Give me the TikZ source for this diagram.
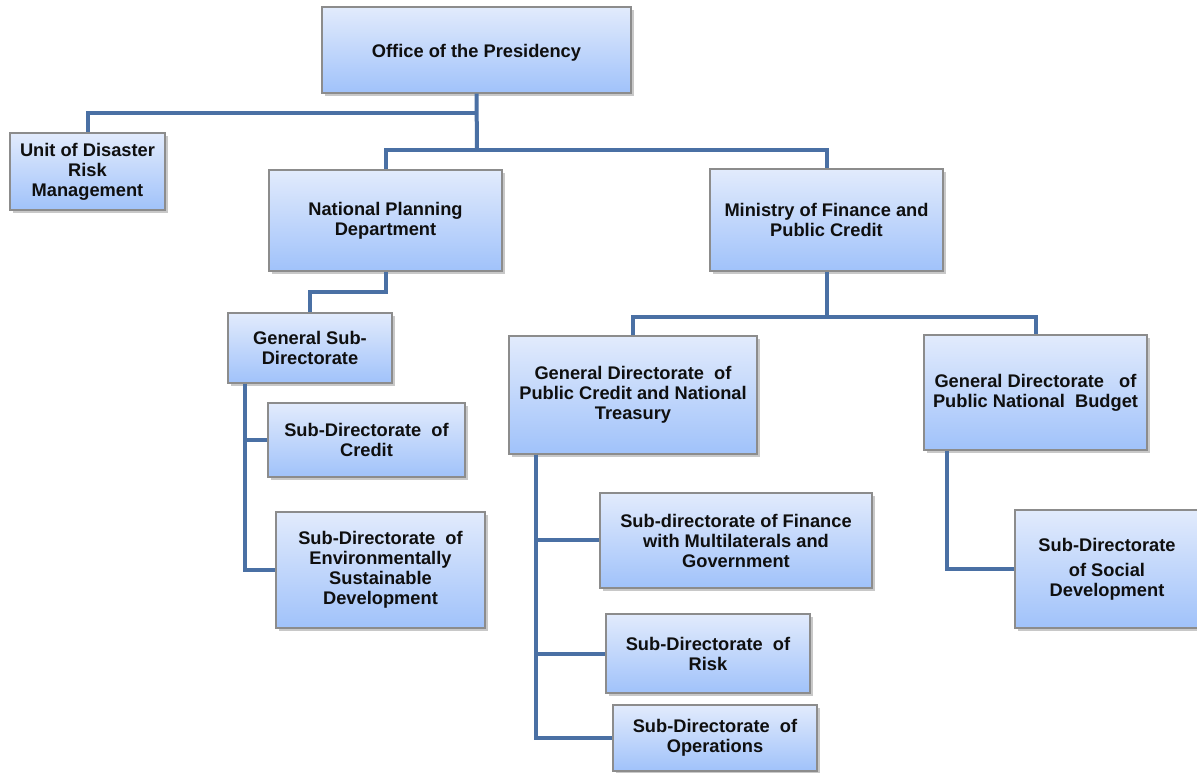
\documentclass[tikz,border=0pt]{standalone}
\usepackage{fontspec}
\setmainfont{Liberation Sans}
\usetikzlibrary{shadows,calc}
\definecolor{boxtop}{RGB}{226,235,252}
\definecolor{boxbot}{RGB}{160,194,250}
\definecolor{boxline}{RGB}{140,140,140}
\definecolor{connblue}{RGB}{74,112,164}
\definecolor{txt}{RGB}{15,15,15}
\tikzset{
  orgbox/.style={draw=boxline, line width=0.8pt, top color=boxtop, bottom color=boxbot,
    inner sep=0pt, align=center, text=txt,
    font=\fontsize{13.7}{15}\bfseries,
    execute at begin node={\rule{0pt}{14pt}},
    drop shadow={shadow xshift=2pt, shadow yshift=-2pt, opacity=0.3, fill=black!70}},
  conn/.style={draw=connblue, line width=3pt},
}
% box given by its corners in pixel units: name, x1, y1, x2, y2, text
\newcommand{\bx}[6]{%
  \node[orgbox, minimum width={(#4-#2)*0.75pt}, minimum height={(#5-#3)*0.75pt}]
    (#1) at ({(#2+#4)/2},{(#3+#5)/2}) {#6};}
\begin{document}
\begin{tikzpicture}[x=0.75pt, y=-0.75pt]
\useasboundingbox (0,0) rectangle (1197,773);
\fill[white] (0,0) rectangle (1197,773);

\coordinate (topA) at (477,113);
\coordinate (topB) at (477,150);

% boxes
\bx{pres}{322}{7}{631}{93}{Office of the Presidency}
\bx{unit}{10}{133}{165}{210}{Unit of Disaster\\Risk\\Management}
\bx{plan}{269}{170}{502}{271}{National Planning\\Department}
\bx{mins}{710}{169}{943}{271}{Ministry of Finance and\\Public Credit}
\bx{gensub}{228}{313}{392}{383}{General Sub-\\Directorate}
\bx{credit}{268}{403}{465}{477}{Sub-Directorate\ \ of\\Credit}
\bx{env}{276}{512}{485}{628}{Sub-Directorate\ \ of\\Environmentally\\Sustainable\\Development}
\bx{gdc}{509}{336}{757}{454}{General Directorate\ \ of\\Public Credit and National\\Treasury}
\bx{gdb}{924}{335}{1147}{450}{General Directorate\ \ \ of\\Public National\ \ Budget}
\bx{fin}{600}{493}{872}{588}{Sub-directorate of Finance\\with Multilaterals and\\Government}
\bx{risk}{606}{614}{810}{693}{Sub-Directorate\ \ of\\Risk}
\bx{ops}{613}{705}{817}{771}{Sub-Directorate\ \ of\\Operations}
\bx{soc}{1015}{510}{1199}{628}{Sub-Directorate\\[4pt]of Social\\Development}

% tree connectors
\draw[conn] (pres.south) -- (topB);
\draw[conn] (unit.north) |- (topA);
\draw[conn] (plan.north) |- (topB) -| (mins.north);
\draw[conn] (plan.south) -- (plan.south |- 0,292) -| (gensub.north);
\draw[conn] ($(gensub.south west)+(18,0)$) |- (credit.west);
\draw[conn] ($(gensub.south west)+(18,0)$) |- (env.west);
\draw[conn] (mins.south) -- (mins.south |- 0,317) coordinate (minj);
\draw[conn] (gdc.north) |- (minj) -| (gdb.north);
\draw[conn] ($(gdc.south west)+(28,0)$) |- (fin.west);
\draw[conn] ($(gdc.south west)+(28,0)$) |- (risk.west);
\draw[conn] ($(gdc.south west)+(28,0)$) |- (ops.west);
\draw[conn] ($(gdb.south west)+(24,0)$) |- (soc.west);
\end{tikzpicture}
\end{document}
